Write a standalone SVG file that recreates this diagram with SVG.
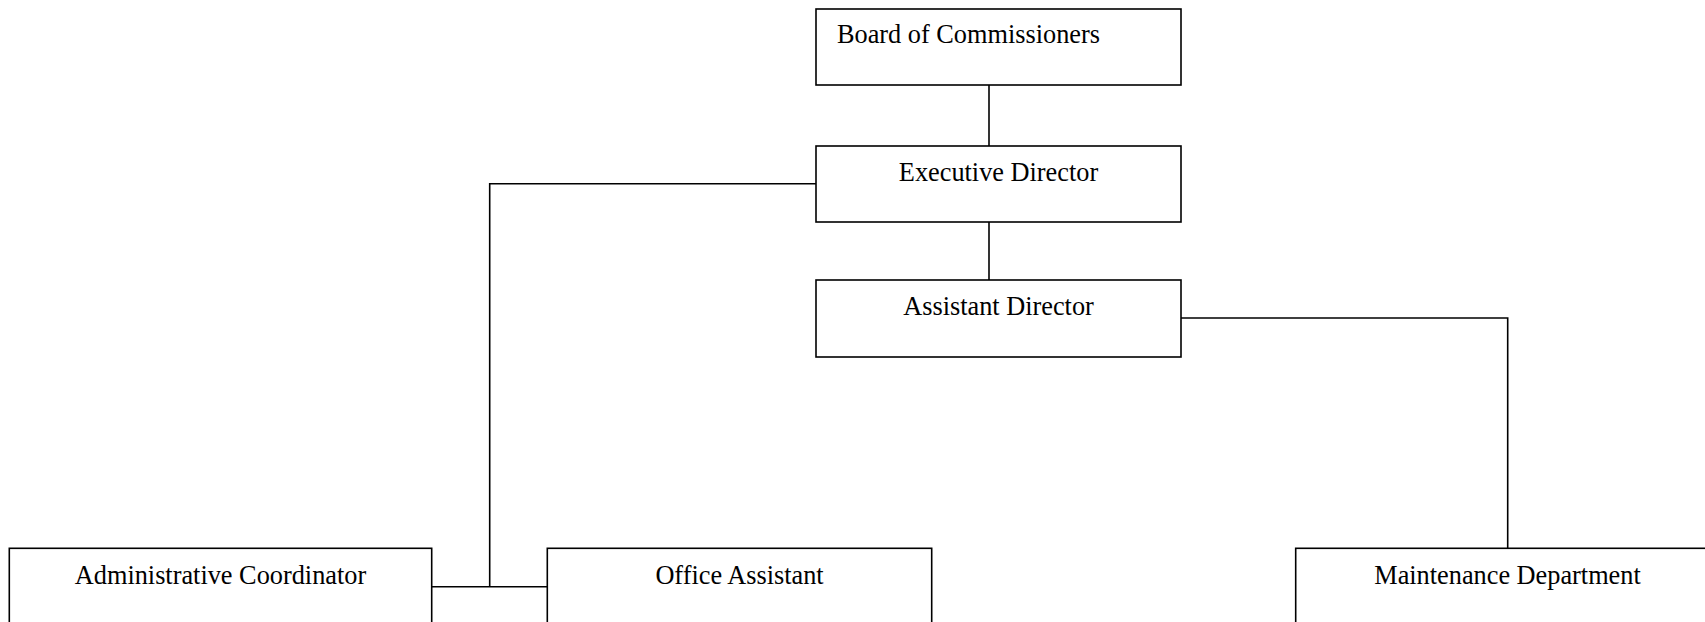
<svg xmlns="http://www.w3.org/2000/svg" width="1705" height="622" viewBox="0 0 1705 622">
  <style>
    .box { fill: #ffffff; stroke: #000000; stroke-width: 1.6; }
    .wire { fill: none; stroke: #000000; stroke-width: 1.6; }
    .label { font-family: "Liberation Serif", "Times New Roman", serif; font-size: 26.3px; fill: #000000; }
    .mid { text-anchor: middle; }
  </style>
  <rect width="1705" height="622" fill="#ffffff"/>

  <!-- reporting lines -->
  <g id="connectors">
    <line class="wire" x1="989" y1="85" x2="989" y2="146"/>
    <line class="wire" x1="989" y1="222" x2="989" y2="280"/>
    <polyline class="wire" points="816,183.7 489.7,183.7 489.7,586.7"/>
    <line class="wire" x1="431.7" y1="586.7" x2="547.3" y2="586.7"/>
    <polyline class="wire" points="1181,318 1507.7,318 1507.7,548.3"/>
  </g>

  <g id="board">
    <rect class="box" x="816" y="9" width="365" height="76"/>
    <text class="label" x="837" y="43">Board of Commissioners</text>
  </g>

  <g id="executive-director">
    <rect class="box" x="816" y="146" width="365" height="76"/>
    <text class="label mid" x="998.5" y="181">Executive Director</text>
  </g>

  <g id="assistant-director">
    <rect class="box" x="816" y="280" width="365" height="77"/>
    <text class="label mid" x="998.5" y="315">Assistant Director</text>
  </g>

  <g id="administrative-coordinator">
    <rect class="box" x="9.3" y="548.3" width="422.4" height="80"/>
    <text class="label mid" x="220.5" y="584.3">Administrative Coordinator</text>
  </g>

  <g id="office-assistant">
    <rect class="box" x="547.3" y="548.3" width="384.4" height="80"/>
    <text class="label mid" x="739.5" y="584.3">Office Assistant</text>
  </g>

  <g id="maintenance-department">
    <rect class="box" x="1295.7" y="548.3" width="424" height="80"/>
    <text class="label mid" x="1507.5" y="584.3">Maintenance Department</text>
  </g>
</svg>
